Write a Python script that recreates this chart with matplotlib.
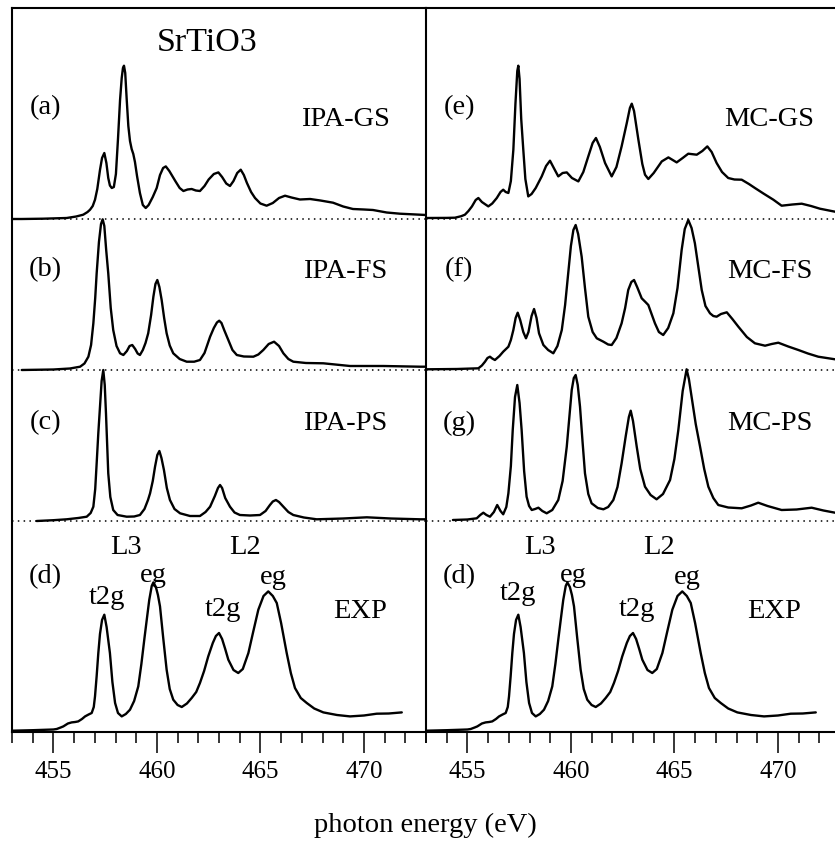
import matplotlib
matplotlib.use('Agg')
import matplotlib.pyplot as plt
from matplotlib.ticker import MultipleLocator

plt.rcParams['font.family'] = ['Liberation Serif', 'DejaVu Serif']

# ---- spectra: (photon energy eV, intensity arb.) ----
ipa_gs_x = [453.0, 453.47, 454.5, 455.64, 456.1, 456.44, 456.65, 456.77, 456.9, 457.01, 457.12,
            457.25, 457.35, 457.46, 457.56, 457.65, 457.73, 457.82, 457.92, 458.02, 458.12, 458.22,
            458.3, 458.36, 458.41, 458.47, 458.54, 458.62, 458.7, 458.78, 458.86, 458.94, 459.04,
            459.18, 459.32, 459.46, 459.6, 459.8, 459.99, 460.15, 460.3, 460.43, 460.6, 460.9,
            461.1, 461.28, 461.48, 461.68, 461.88, 462.08, 462.3, 462.5, 462.75, 462.97, 463.15,
            463.35, 463.53, 463.7, 463.88, 464.05, 464.2, 464.35, 464.55, 464.74, 465.0, 465.3,
            465.6, 465.9, 466.19, 466.5, 466.91, 467.4, 467.9, 468.51, 469.0, 469.47, 470.0,
            470.44, 471.1, 471.74, 472.71, 473.0]
ipa_gs_y = [0, 0, 0.3, 1, 2.5, 4.3, 7, 9.3, 13, 19.3, 30,
            49, 61, 66, 56, 41, 33.5, 31, 32, 45, 80, 119,
            141, 151, 153.3, 146, 120, 93, 78, 70, 65, 57, 43,
            26, 14, 11, 14, 22, 31, 44, 51, 52.6, 48, 37.6,
            31, 28, 29.5, 30, 28.5, 28, 33, 39.5, 45, 46.6, 42,
            35.5, 33, 38, 46, 49.3, 44, 36, 27, 21, 15.5, 13.3,
            16, 21, 23.3, 21.5, 19.5, 20, 18.5, 16.3, 12.5, 10, 9.5,
            9, 6.5, 5.3, 4.3, 4]

ipa_fs_x = [453.47, 455.0, 455.8, 456.29, 456.5, 456.69, 456.82, 456.93, 457.02, 457.09, 457.2,
            457.3, 457.38, 457.46, 457.55, 457.65, 457.77, 457.89, 458.05, 458.22, 458.38, 458.55,
            458.68, 458.81, 458.95, 459.07, 459.18, 459.32, 459.45, 459.58, 459.72, 459.83, 459.93,
            460.02, 460.12, 460.23, 460.35, 460.47, 460.62, 460.79, 461.1, 461.44, 461.8, 462.08,
            462.3, 462.45, 462.57, 462.75, 462.9, 463.01, 463.12, 463.25, 463.45, 463.65, 463.86,
            464.2, 464.66, 464.9, 465.14, 465.4, 465.66, 465.9, 466.11, 466.35, 466.59, 467.2,
            468.04, 469.33, 470.94, 472.71, 473.0]
ipa_fs_y = [0, 0.5, 1.5, 3.3, 6.5, 13.3, 25, 46.7, 72, 96.7, 128,
            146, 150.7, 144, 120, 96.7, 62, 40, 24, 16.7, 15, 19,
            24, 25, 21, 16.5, 15, 20, 27, 36.7, 55, 73.3, 86,
            90, 83, 70, 52, 36.7, 24.5, 16.7, 11, 8.3, 8.3, 10,
            17, 26, 33.3, 42, 47.5, 49.3, 47, 40, 30, 20, 15,
            13.5, 13.3, 15.5, 20, 26, 28.3, 24, 16.7, 11, 8.3, 7,
            6.7, 4, 4, 3.3, 3.3]

ipa_ps_x = [454.19, 455.0, 455.64, 456.2, 456.61, 456.8, 456.93, 457.02, 457.09, 457.17, 457.25,
            457.33, 457.41, 457.48, 457.54, 457.6, 457.65, 457.75, 457.89, 458.1, 458.54, 458.9,
            459.18, 459.4, 459.57, 459.67, 459.8, 459.91, 460.02, 460.12, 460.22, 460.34, 460.48,
            460.63, 460.85, 461.12, 461.6, 462.08, 462.35, 462.57, 462.8, 462.95, 463.05, 463.15,
            463.3, 463.53, 463.75, 464.01, 464.5, 464.98, 465.25, 465.46, 465.6, 465.75, 465.9,
            466.11, 466.35, 466.59, 467.1, 467.72, 469.0, 470.14, 471.3, 472.71, 473.0]
ipa_ps_y = [0, 0.8, 1.7, 3, 4.3, 8, 14.3, 32, 57.7, 88, 114,
            140, 151, 136, 107.7, 75, 47.7, 24, 11, 6, 4.3, 4.5,
            6, 12, 21, 27.7, 40, 54.3, 66, 70, 63, 51, 33,
            21, 12, 7.7, 5, 5, 9, 14.3, 25, 33, 36, 33,
            23, 14.3, 8.5, 6, 5.5, 6, 10, 16, 19.5, 21, 19,
            14.3, 9, 6, 3.5, 1.7, 2.5, 3.7, 2.5, 1.7, 1.7]

exp_x = [453.01, 454.0, 455.0, 455.16, 455.35, 455.48, 455.7, 455.88, 456.05, 456.2, 456.38,
         456.53, 456.7, 456.85, 456.95, 457.01, 457.09, 457.17, 457.25, 457.35, 457.46, 457.57,
         457.65, 457.73, 457.85, 457.98, 458.12, 458.3, 458.5, 458.7, 458.9, 459.1, 459.25,
         459.4, 459.51, 459.63, 459.75, 459.83, 459.95, 460.05, 460.15, 460.3, 460.47, 460.62,
         460.79, 461.0, 461.2, 461.45, 461.68, 461.9, 462.08, 462.28, 462.48, 462.7, 462.85,
         463.0, 463.15, 463.3, 463.45, 463.7, 463.93, 464.15, 464.42, 464.65, 464.9, 465.15,
         465.38, 465.6, 465.79, 466.0, 466.27, 466.47, 466.67, 466.95, 467.24, 467.6, 468.04,
         468.7, 469.33, 470.0, 470.62, 471.2, 471.83]
exp_y = [1.3, 1.8, 2.5, 3, 4.5, 5.6, 8.5, 9.6, 10, 10.6, 13,
         15.6, 17.5, 19, 25, 35.6, 56, 79, 98, 112, 117.3, 105,
         92, 79, 50, 29, 19, 15.6, 18, 22.3, 31, 45.6, 68,
         94, 112.3, 132, 146, 149.6, 145, 137, 125.6, 95, 62.3, 43,
         32.3, 27, 25, 28.5, 34, 40, 49, 61, 75.6, 89, 96,
         99, 93, 83, 72.3, 62, 59, 63, 79, 100, 122.3, 136,
         140.6, 136, 129, 109, 79, 59, 44, 34, 29, 23.5, 19.6,
         17, 15.6, 16.5, 18.3, 18.5, 19.6]

mc_gs_x = [453.0, 454.0, 454.4, 454.7, 454.88, 455.05, 455.22, 455.4, 455.53, 455.7, 456.01,
           456.2, 456.42, 456.6, 456.73, 456.85, 456.98, 457.1, 457.22, 457.32, 457.41, 457.46,
           457.52, 457.6, 457.7, 457.8, 457.94, 458.1, 458.3, 458.45, 458.59, 458.8, 458.99,
           459.2, 459.39, 459.6, 459.8, 460.05, 460.36, 460.6, 460.84, 461.05, 461.21, 461.4,
           461.65, 461.97, 462.2, 462.45, 462.7, 462.85, 462.94, 463.05, 463.26, 463.45, 463.58,
           463.74, 464.0, 464.39, 464.71, 465.11, 465.4, 465.67, 466.08, 466.35, 466.59, 466.8,
           467.04, 467.3, 467.6, 467.9, 468.25, 468.6, 468.89, 469.3, 469.78, 470.18, 470.7,
           471.15, 471.6, 472.03, 472.76, 473.0]
mc_gs_y = [1, 1.1, 1.3, 2.8, 4.3, 8, 12.6, 19, 21, 17, 12.6,
           15.5, 21, 27, 29.3, 27, 26, 38, 69.3, 115, 148, 153.3,
           140, 100, 69.3, 40, 22.6, 25, 31, 37, 42.6, 53, 58.3,
           50, 42.6, 46, 46.6, 41, 37.6, 47, 62.6, 76, 81, 72,
           56, 42.6, 52, 72.6, 96, 111, 115.3, 108, 79.3, 55, 44.3,
           40, 46, 57.6, 61.6, 56.6, 61, 65.3, 64.3, 68, 72.6, 67,
           56, 47, 41, 39.5, 39.3, 35, 31, 25.5, 19.3, 13.3, 14.5,
           15.3, 13, 10.3, 7.3, 7]

mc_fs_x = [453.03, 454.5, 455.53, 455.7, 455.85, 455.97, 456.09, 456.2, 456.33, 456.55, 456.73,
           456.98, 457.1, 457.22, 457.33, 457.43, 457.55, 457.7, 457.83, 457.95, 458.1, 458.22,
           458.34, 458.46, 458.67, 458.9, 459.15, 459.35, 459.56, 459.72, 459.87, 460.0, 460.12,
           460.23, 460.35, 460.52, 460.68, 460.84, 461.05, 461.25, 461.57, 461.8, 461.97, 462.2,
           462.45, 462.62, 462.77, 462.92, 463.05, 463.2, 463.42, 463.6, 463.74, 464.06, 464.25,
           464.46, 464.7, 464.95, 465.15, 465.35, 465.5, 465.67, 465.83, 465.99, 466.15, 466.32,
           466.5, 466.72, 466.88, 467.04, 467.25, 467.53, 467.8, 468.09, 468.5, 468.89, 469.38,
           469.7, 470.02, 470.5, 470.99, 471.45, 471.95, 472.76, 473.0]
mc_fs_y = [0.7, 1, 1.7, 4.5, 8.3, 12, 13.3, 11.5, 10, 14, 18.3,
           23.3, 30, 40, 52, 57.3, 50, 38, 31.7, 38, 54, 61,
           52, 36.7, 25, 20, 16.7, 24, 40, 65, 96.7, 124, 140,
           145, 136, 113.3, 82, 53.3, 38, 31.7, 28.3, 25.5, 25, 32,
           46.7, 62, 80, 88, 90, 83, 71.7, 68, 65, 46.7, 38,
           35, 42, 56.7, 82, 120, 141, 150, 142, 126.7, 104, 80,
           64, 56.7, 54, 53.3, 56, 57.7, 51, 43.3, 33, 26.7, 24.3,
           26, 27.3, 23.5, 20, 16.5, 13.3, 10.7, 10.5]

mc_ps_x = [454.3, 455.0, 455.45, 455.62, 455.77, 455.92, 456.09, 456.28, 456.44, 456.6, 456.73,
           456.88, 456.98, 457.1, 457.19, 457.3, 457.41, 457.52, 457.62, 457.74, 457.86, 457.98,
           458.11, 458.27, 458.43, 458.62, 458.83, 459.1, 459.39, 459.6, 459.8, 459.93, 460.04,
           460.14, 460.23, 460.33, 460.44, 460.56, 460.68, 460.84, 461.0, 461.3, 461.57, 461.8,
           462.05, 462.25, 462.45, 462.65, 462.8, 462.89, 463.0, 463.18, 463.35, 463.58, 463.85,
           464.14, 464.45, 464.79, 465.0, 465.19, 465.4, 465.59, 465.7, 465.83, 466.03, 466.24,
           466.44, 466.64, 466.88, 467.12, 467.6, 468.25, 468.7, 469.05, 469.5, 470.18, 470.9,
           471.63, 472.2, 472.76, 473.0]
mc_ps_y = [1, 1.5, 2.7, 6, 8.3, 6, 4.3, 9, 16, 10, 6.7,
           14, 27.7, 55, 91, 124, 136, 118, 91, 50, 24.3, 15,
           11, 12, 13.3, 10, 7.7, 11, 21, 40, 74.3, 105, 131,
           143, 146, 136, 114.3, 80, 47.7, 27, 17.7, 13, 11.7, 14,
           21, 34, 57.7, 85, 104, 110.3, 100, 74.3, 52, 34.3, 26,
           21.7, 27, 41, 62, 91, 130, 151.7, 142, 124.3, 97, 74.3,
           52, 34.3, 23, 16, 13.5, 12.7, 15.5, 18.3, 15, 11, 11.5,
           13.3, 10.5, 8.3, 8]

# stacking offsets (bottom -> top), separators at the upper three
offsets = [0, 211, 362, 513]

fig = plt.figure(figsize=(8.35, 8.41), dpi=100)
ax1 = fig.add_axes([12 / 835, 109 / 841, 414 / 835, 724 / 841])
ax2 = fig.add_axes([426 / 835, 109 / 841, 414 / 835, 724 / 841])

left_curves = [(exp_x, exp_y), (ipa_ps_x, ipa_ps_y), (ipa_fs_x, ipa_fs_y), (ipa_gs_x, ipa_gs_y)]
right_curves = [(exp_x, exp_y), (mc_ps_x, mc_ps_y), (mc_fs_x, mc_fs_y), (mc_gs_x, mc_gs_y)]

for ax, curves in [(ax1, left_curves), (ax2, right_curves)]:
    for (x, y), off in zip(curves, offsets):
        ax.plot(x, [v + off for v in y], color='black', lw=1.7,
                solid_joinstyle='round', solid_capstyle='round')
    for off in offsets[1:]:
        ax.axhline(off, color='black', lw=1.1, ls=(0, (1, 2.8)), zorder=0)
    ax.set_xlim(453, 473)
    ax.set_ylim(0, 724)
    ax.set_yticks([])
    ax.xaxis.set_major_locator(MultipleLocator(5))
    ax.xaxis.set_minor_locator(MultipleLocator(1))
    ax.tick_params(axis='x', which='major', direction='out', length=15, width=1.1,
                   labelsize=18, pad=6)
    ax.tick_params(axis='x', which='minor', direction='out', length=8, width=1.1)
    for s in ax.spines.values():
        s.set_linewidth(1.5)
    ax.spines['right'].set_visible(False)

tfs = 20.5
ax1.text(462.42, 689, 'SrTiO3', fontsize=24.5, ha='center', va='center')
for ax, names, dx in [(ax1, ['IPA-GS', 'IPA-FS', 'IPA-PS'], 469.09),
                      (ax2, ['MC-GS', 'MC-FS', 'MC-PS'], 469.6)]:
    for name, yy in zip(names, [612, 460, 309]):
        ax.text(dx, yy, name, fontsize=tfs, ha='center', va='center')

for ax, tags in [(ax1, ['(a)', '(b)', '(c)', '(d)']), (ax2, ['(e)', '(f)', '(g)', '(d)'])]:
    for tag, yy in zip(tags, [624, 462, 309, 155]):
        ax.text(454.6, yy, tag, fontsize=tfs, ha='center', va='center')

for ax, t2g1, eg1 in [(ax1, (457.6, 135), (459.81, 157)), (ax2, (457.44, 139), (460.1, 157))]:
    ax.text(*t2g1, 't2g', fontsize=tfs, ha='center', va='center')
    ax.text(*eg1, 'eg', fontsize=tfs, ha='center', va='center')
    ax.text(458.52, 184, 'L3', fontsize=tfs, ha='center', va='center')
    ax.text(463.19, 123, 't2g', fontsize=tfs, ha='center', va='center')
    ax.text(464.28, 184, 'L2', fontsize=tfs, ha='center', va='center')
    ax.text(465.61, 155, 'eg', fontsize=tfs, ha='center', va='center')
    ax.text(469.8, 121, 'EXP', fontsize=tfs, ha='center', va='center')

fig.text(0.509, 1 - 825 / 841, 'photon energy (eV)', fontsize=20.5, ha='center', va='center')

fig.savefig('out.png', dpi=100)
